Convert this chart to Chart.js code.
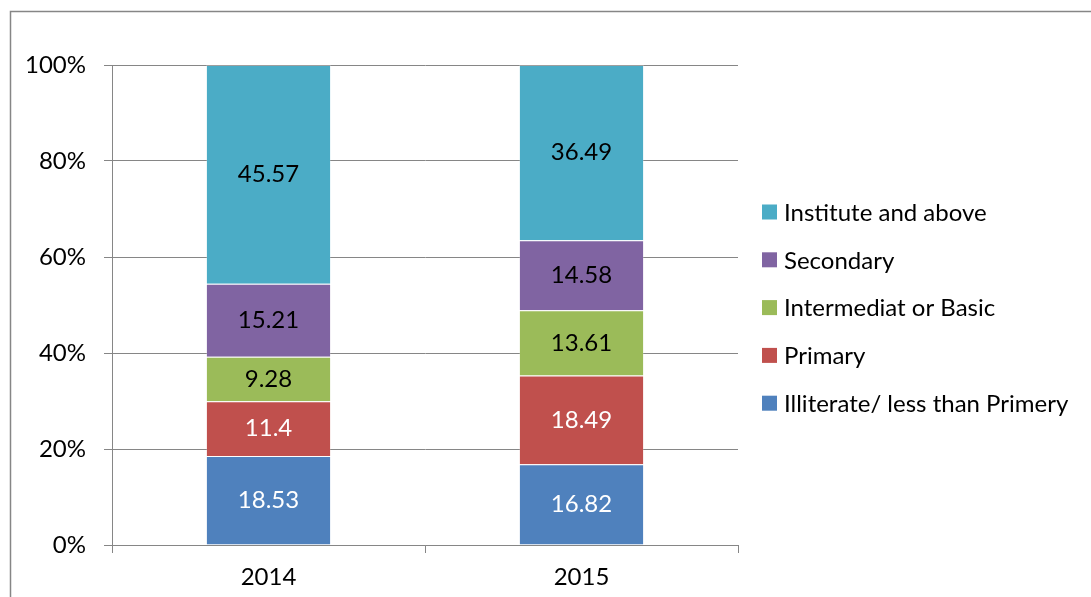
<!DOCTYPE html>
<html>
<head>
<meta charset="utf-8">
<script src="https://cdn.jsdelivr.net/npm/chart.js@4"></script>
<style>
    html, body { margin: 0; padding: 0; background: #fff; }
    #wrap { width: 1091px; height: 597px; position: relative; }
</style>
</head>
<body>
<div id="wrap"><canvas id="eduChart" width="1091" height="597"></canvas></div>
<script>
// Chart data
const years = ['2014', '2015'];
const illiterate = [18.53, 16.82];
const primary = [11.4, 18.49];
const intermediate = [9.28, 13.61];
const secondary = [15.21, 14.58];
const institute = [45.57, 36.49];
const yTicks = [0, 20, 40, 60, 80, 100];

const FONT = 'Lato, "Liberation Sans", sans-serif';
const FONT_SIZE = 24;
const GRID = '#868686';

// Outer frame of the chart
const framePlugin = {
    id: 'frame',
    afterDraw(chart) {
        const ctx = chart.ctx;
        ctx.save();
        ctx.strokeStyle = GRID;
        ctx.lineWidth = 1.5;
        ctx.beginPath();
        ctx.moveTo(10.5, 597);
        ctx.lineTo(10.5, 11.5);
        ctx.lineTo(1091, 11.5);
        ctx.stroke();
        ctx.restore();
    }
};

// Values written in the middle of each segment
const segmentLabels = {
    id: 'segmentLabels',
    afterDatasetsDraw(chart) {
        const ctx = chart.ctx;
        ctx.save();
        ctx.font = FONT_SIZE + 'px ' + FONT;
        ctx.textAlign = 'center';
        ctx.textBaseline = 'middle';
        chart.data.datasets.forEach((ds, i) => {
            chart.getDatasetMeta(i).data.forEach((bar, j) => {
                const mid = (bar.y + bar.base) / 2;
                ctx.fillStyle = ds.labelColor;
                ctx.fillText(String(ds.data[j]), bar.x, mid);
            });
        });
        ctx.restore();
    }
};

// Legend on the right, top series first
const sideLegend = {
    id: 'sideLegend',
    afterDraw(chart) {
        const ctx = chart.ctx;
        const items = chart.data.datasets.slice().reverse();
        ctx.save();
        ctx.font = FONT_SIZE + 'px ' + FONT;
        ctx.textBaseline = 'middle';
        ctx.textAlign = 'left';
        items.forEach((ds, k) => {
            const y = 212 + k * 47.8;
            ctx.fillStyle = ds.backgroundColor;
            ctx.fillRect(762, y - 7.5, 15, 15);
            ctx.fillStyle = '#000';
            ctx.fillText(ds.label, 784, y + 1);
        });
        ctx.restore();
    }
};

function series(label, data, color, labelColor) {
    return {
        label: label,
        data: data,
        backgroundColor: color,
        borderColor: 'rgba(255,255,255,0.2)',
        borderWidth: 1,
        labelColor: labelColor,
        barPercentage: 0.4,
        categoryPercentage: 1.0
    };
}

new Chart(document.getElementById('eduChart').getContext('2d'), {
    type: 'bar',
    data: {
        labels: years,
        datasets: [
            series('Illiterate/ less than Primery', illiterate, '#4F81BD', '#fff'),
            series('Primary', primary, '#C0504D', '#fff'),
            series('Intermediat or Basic', intermediate, '#9BBB59', '#000'),
            series('Secondary', secondary, '#8064A2', '#000'),
            series('Institute and above', institute, '#4BACC6', '#000')
        ]
    },
    options: {
        responsive: false,
        animation: false,
        layout: {
            padding: { left: 0, right: 353, top: 65, bottom: 0 }
        },
        plugins: {
            legend: { display: false },
            tooltip: { enabled: false }
        },
        scales: {
            x: {
                stacked: true,
                offset: true,
                grid: {
                    offset: true,
                    drawOnChartArea: false,
                    drawTicks: true,
                    tickLength: 8,
                    color: GRID
                },
                border: { color: GRID, width: 1 },
                ticks: {
                    color: '#000',
                    font: { family: FONT, size: FONT_SIZE },
                    padding: 10
                },
                afterFit(scale) { scale.height = 52; }
            },
            y: {
                stacked: true,
                min: 0,
                max: 100,
                afterBuildTicks(scale) {
                    scale.ticks = yTicks.map(v => ({ value: v }));
                },
                grid: {
                    color: GRID,
                    tickLength: 8,
                    drawTicks: true
                },
                border: { color: GRID, width: 1 },
                ticks: {
                    color: '#000',
                    font: { family: FONT, size: FONT_SIZE },
                    padding: 18,
                    callback: v => v + '%'
                },
                afterFit(scale) { scale.width = 112; }
            }
        }
    },
    plugins: [framePlugin, segmentLabels, sideLegend]
});
</script>
</body>
</html>
